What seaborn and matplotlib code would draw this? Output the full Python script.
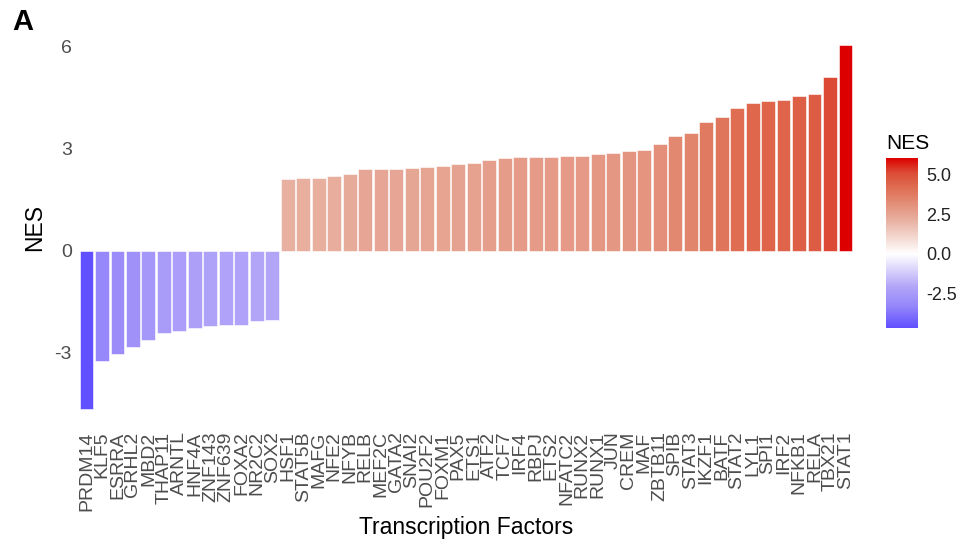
import numpy as np
import pandas as pd
import matplotlib
matplotlib.use("Agg")
import matplotlib.pyplot as plt
from matplotlib.colors import LinearSegmentedColormap, Normalize, to_rgb
from matplotlib.cm import ScalarMappable
import seaborn as sns

# Transcription factors ranked by normalized enrichment score
tf_names = [
    "PRDM14", "KLF5", "ESRRA", "GRHL2", "MBD2", "THAP11", "ARNTL", "HNF4A",
    "ZNF143", "ZNF639", "FOXA2", "NR2C2", "SOX2", "HSF1", "STAT5B", "MAFG",
    "NFE2", "NFYB", "RELB", "MEF2C", "GATA2", "SNAI2", "POU2F2", "FOXM1",
    "PAX5", "ETS1", "ATF2", "TCF7", "IRF4", "RBPJ", "ETS2", "NFATC2",
    "RUNX2", "RUNX1", "JUN", "CREM", "MAF", "ZBTB11", "SPIB", "STAT3",
    "IKZF1", "BATF", "STAT2", "LYL1", "SPI1", "IRF2", "NFKB1", "RELA",
    "TBX21", "STAT1",
]
nes_values = [
    -4.65, -3.24, -3.03, -2.83, -2.62, -2.42, -2.35, -2.26,
    -2.21, -2.18, -2.17, -2.06, -2.03, 2.09, 2.14, 2.14,
    2.20, 2.25, 2.40, 2.40, 2.40, 2.42, 2.45, 2.48,
    2.53, 2.56, 2.66, 2.72, 2.75, 2.75, 2.76, 2.79,
    2.79, 2.85, 2.86, 2.92, 2.96, 3.12, 3.35, 3.44,
    3.78, 3.93, 4.18, 4.34, 4.40, 4.41, 4.53, 4.59,
    5.11, 6.02,
]
y_ticks = [-3, 0, 3, 6]
legend_ticks = [-2.5, 0.0, 2.5, 5.0]

vmin, vmax = min(nes_values), max(nes_values)

# Diverging fill: blue-violet below zero, white at zero, salmon to red above.
# Stops are given as a fraction of the way from zero to the data extreme.
neg_stops = [(1.0, "#6050FF"), (0.70, "#9687FA"), (0.44, "#B2A5F8"), (0.0, "#FFFFFF")]
pos_stops = [(0.35, "#E8B0A0"), (0.70, "#DE6C50"), (0.85, "#DC4A35"), (1.0, "#DC0000")]

stops = []
for frac, col in neg_stops:
    stops.append(((frac * vmin - vmin) / (vmax - vmin), to_rgb(col)))
for frac, col in pos_stops:
    stops.append(((frac * vmax - vmin) / (vmax - vmin), to_rgb(col)))
grad_cmap = LinearSegmentedColormap.from_list("nes_div", stops, N=512)
norm = Normalize(vmin=vmin, vmax=vmax)

bar_palette = {n: grad_cmap(norm(v)) for n, v in zip(tf_names, nes_values)}

df = pd.DataFrame({"tf": tf_names, "nes": nes_values})

sns.set_theme(style="white")
plt.rcParams["font.family"] = ["Liberation Sans", "DejaVu Sans"]

fig = plt.figure(figsize=(9.64, 5.44), dpi=100)
ax = fig.add_axes([0.0801, 0.2145, 0.8066, 0.7353])

sns.barplot(data=df, x="tf", y="nes", hue="tf", palette=bar_palette,
            legend=False, width=0.9, edgecolor="white", linewidth=0.4,
            saturation=1, ax=ax)

span = vmax - vmin
ax.set_ylim(vmin - 0.05 * span, vmax + 0.05 * span)
ax.set_xlim(-0.6, len(tf_names) - 0.4)
ax.set_yticks(y_ticks)
ax.set_yticklabels([str(t) for t in y_ticks])
ax.tick_params(axis="y", length=0, pad=4, labelsize=14, labelcolor="#4D4D4D")
ax.tick_params(axis="x", length=0, pad=3, labelsize=14, labelcolor="#4D4D4D",
               labelrotation=90)
ax.set_xlabel("Transcription Factors", fontsize=16.5, color="black", labelpad=4)
ax.set_ylabel("NES", fontsize=16.5, color="black", labelpad=6)
ax.grid(False)
sns.despine(ax=ax, left=True, bottom=True)

# colour bar legend
cax = fig.add_axes([886 / 964, (544 - 328) / 544, 32 / 964, 170 / 544])
sm = ScalarMappable(norm=norm, cmap=grad_cmap)
cb = fig.colorbar(sm, cax=cax)
cb.outline.set_visible(False)
cb.set_ticks(legend_ticks)
cb.set_ticklabels([f"{t:.1f}" for t in legend_ticks])
cax.tick_params(which="both", left=True, right=True, labelleft=False,
                labelright=True, direction="in", color="white", length=6,
                width=1, labelsize=13, labelcolor="#222222", pad=6)
fig.text(886 / 964, 1 - 143 / 544, "NES", ha="left", va="center",
         fontsize=15, color="black")

fig.text(12 / 964, 1 - 22 / 544, "A", ha="left", va="center",
         fontsize=21, fontweight="bold", color="black")

fig.savefig("out.png", dpi=100)
